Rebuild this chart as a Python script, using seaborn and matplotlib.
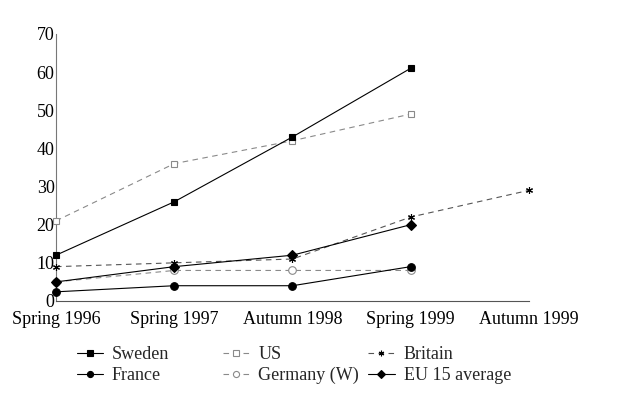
import matplotlib
matplotlib.use('Agg')
import pandas as pd
import matplotlib.pyplot as plt
import seaborn as sns
from matplotlib.lines import Line2D

sns.set_theme(style="white")
plt.rcParams['font.family'] = ['Liberation Serif', 'DejaVu Serif']

# Données
periods = ["Spring 1996", "Spring 1997", "Autumn 1998", "Spring 1999", "Autumn 1999"]
sweden = [12, 26, 43, 61]
us = [21, 36, 42, 49]
britain = [9, 10, 11, 22, 29]
france = [2.4, 4, 4, 9]
germany = [5, 8, 8, 8]
eu15 = [5, 9, 12, 20]

series = {
    "Sweden": sweden,
    "US": us,
    "Britain": britain,
    "France": france,
    "Germany (W)": germany,
    "EU 15 average": eu15,
}

# style de chaque série
styles = {
    "Sweden": dict(color="black", ls="-", marker="s", mfc="black", ms=5),
    "US": dict(color="#8a8a8a", ls=(0, (5, 4)), marker="s", mfc="white", ms=5),
    "Britain": dict(color="#555555", ls=(0, (5, 4)), marker=(6, 2, 0), mfc="black", ms=5),
    "France": dict(color="black", ls="-", marker="o", mfc="black", ms=5.5),
    "Germany (W)": dict(color="#8a8a8a", ls=(0, (5, 4)), marker="o", mfc="white", ms=5.5),
    "EU 15 average": dict(color="black", ls="-", marker="D", mfc="black", ms=5),
}

rows = []
for name, vals in series.items():
    for i, v in enumerate(vals):
        rows.append({"Country": name, "Period": periods[i], "Value": v})
df = pd.DataFrame(rows)
df["pos"] = df["Period"].map(periods.index)

fig = plt.figure(figsize=(6.34, 4.04), dpi=100)
ax = fig.add_axes([0.0883, 0.255, 0.746, 0.661])

# ordre de tracé : les lignes grises d'abord
draw_order = ["US", "Germany (W)", "Britain", "France", "EU 15 average", "Sweden"]
for name in draw_order:
    st = styles[name]
    sub = df[df["Country"] == name]
    sns.lineplot(data=sub, x="pos", y="Value", ax=ax, color=st["color"],
                 linestyle=st["ls"], linewidth=0.8, marker=st["marker"],
                 markerfacecolor=st["mfc"], markeredgecolor=st["color"] if st["mfc"] == "white" else "black",
                 markeredgewidth=0.8, markersize=st["ms"], clip_on=False, zorder=3)

ax.set_xlim(0, len(periods) - 1)
ax.set_ylim(0, 70)
ax.set_xticks(range(len(periods)))
ax.set_xticklabels(periods)
ax.set_yticks(range(0, 71, 10))
ax.set_xlabel("")
ax.set_ylabel("")

for s in ["top", "right"]:
    ax.spines[s].set_visible(False)
ax.spines["left"].set_color("#777777")
ax.spines["bottom"].set_color("#555555")
ax.spines["left"].set_linewidth(0.8)
ax.spines["bottom"].set_linewidth(0.8)

ax.tick_params(axis="y", direction="in", length=4, width=0.6, pad=1, labelsize=13, colors="black")
ax.tick_params(axis="x", direction="inout", length=5, width=0.6, pad=5, labelsize=13, colors="black")

# légende en bas : trois colonnes placées séparément
cols = [["Sweden", "France"], ["US", "Germany (W)"], ["Britain", "EU 15 average"]]
col_x = [0.121, 0.352, 0.581]
for names, x0 in zip(cols, col_x):
    handles = []
    for name in names:
        st = styles[name]
        handles.append(Line2D([], [], color=st["color"], ls=st["ls"], lw=0.8, marker=st["marker"],
                              mfc=st["mfc"], mec=st["color"] if st["mfc"] == "white" else "black",
                              mew=0.8, ms=st["ms"] * 0.8))
    fig.legend(handles, names, loc="upper left", bbox_to_anchor=(x0, 0.143),
               frameon=False, fontsize=13, handlelength=1.45, handletextpad=0.5,
               labelspacing=0.2, borderaxespad=0, borderpad=0)

fig.savefig("out.png", dpi=100, facecolor="white")
